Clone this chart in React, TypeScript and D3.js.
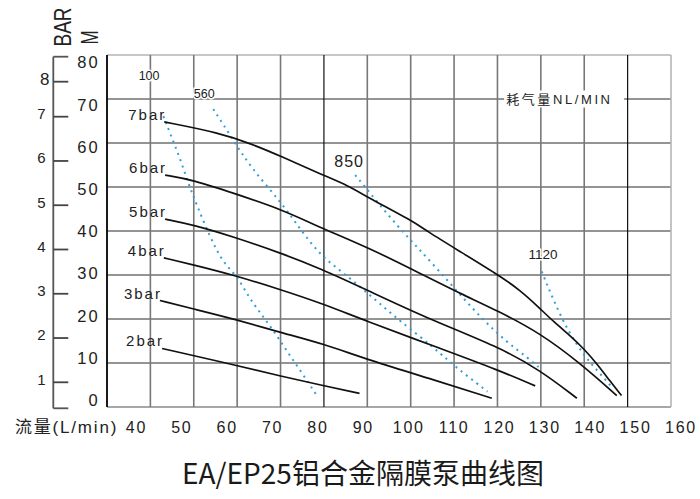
import React from "react";
import * as d3 from "d3";

// ---------- data ----------
const gridFlows = [30, 40, 50, 60, 70, 80, 90, 100, 110, 120, 130, 140, 150, 160];
const flowTicks = [40, 50, 60, 70, 80, 90, 100, 110, 120, 130, 140, 150, 160];
const headTicks = [0, 10, 20, 30, 40, 50, 60, 70, 80];
const barTicks = [1, 2, 3, 4, 5, 6, 7, 8];
const boldFlows = [80, 150];

const pressureLabels = ["7bar", "6bar", "5bar", "4bar", "3bar", "2bar"];
const curve7bar: [number, number][] = [[43.2, 64.8], [56, 62.3], [63, 59.9], [70.3, 56.9], [80, 52.6], [85.2, 50.5], [90.6, 47.4], [100.4, 42.3], [103.7, 40.0], [110.6, 35.8], [120.2, 30.0], [125.2, 26.6], [129.8, 22.4], [132.9, 19.4], [137.5, 15.6], [139.8, 13.3], [142.9, 9.9], [146, 5.8], [148.6, 2.6]];
const curve6bar: [number, number][] = [[43.4, 52.7], [49.9, 51.6], [59.1, 48.6], [70.3, 44.9], [79.1, 40.8], [90.6, 36.1], [103.7, 29.6], [111.4, 25.8], [120.2, 21.8], [129.8, 16.8], [139, 10.0], [147.5, 2.6]];
const curve5bar: [number, number][] = [[43.4, 42.7], [49.9, 41.4], [59.1, 38.7], [70.3, 34.9], [79.1, 31.5], [89.9, 26.6], [103.7, 20.2], [120.2, 13.7], [129.8, 8.4], [138.3, 2.0]];
const curve4bar: [number, number][] = [[43.1, 33.9], [49.9, 32.3], [59.1, 30.0], [70.3, 26.6], [79.6, 23.5], [89.1, 19.8], [106.8, 13.3], [120.2, 8.4], [128.7, 4.8]];
const curve3bar: [number, number][] = [[42.2, 24.2], [49.9, 22.3], [59.7, 19.9], [70.1, 16.9], [80.1, 14.3], [90.2, 10.7], [106.8, 5.75], [118.7, 2.0]];
const curve2bar: [number, number][] = [[42.7, 13.3], [59.7, 9.5], [70.1, 7.0], [80.1, 4.8], [88.2, 3.1]];
const pressureCurves = [curve7bar, curve6bar, curve5bar, curve4bar, curve3bar, curve2bar];

const airLabels = ["100", "560", "850", "1120"];
const airLabelAt: [number, number][] = [[39.7, 74.3], [52.4, 70.2], [85.8, 54.5], [130.5, 33.6]];
const airLabelSize = [12.5, 12.5, 16, 13.5];
const air100: [number, number][] = [[43, 66.1], [44.5, 62.3], [46.8, 56.6], [48.7, 50.9], [50.7, 45.9], [53.7, 38.7], [56.8, 32.7], [59.9, 29.9], [62.6, 25.1], [65.3, 21.4], [68, 17.9], [71.4, 12.8], [74.9, 7.8], [78.3, 2.7]];
const air560: [number, number][] = [[54.5, 67.7], [59.1, 60.7], [63, 54.6], [70.3, 46.3], [74.5, 40.5], [79.1, 34.5], [84.1, 30.8], [88.7, 27.0], [93.7, 22.8], [97.1, 19.9], [105.6, 13.3], [109.8, 9.5], [117.7, 3.5]];
const air850: [number, number][] = [[87.2, 52.7], [89.1, 50.5], [92.2, 46.7], [97.1, 41.0], [101.4, 36.4], [106.4, 31.1], [111.4, 25.5], [116.7, 19.8], [122.1, 14.8], [127.1, 11.1], [129.8, 8.8]];
const air1120: [number, number][] = [[130.2, 30.8], [132.9, 24.3], [136.3, 17.1], [140.2, 11.4], [142.9, 8.4], [146.3, 4.6]];
const airCurves = [air100, air560, air850, air1120];

const airTitle = "耗气量NL/MIN";
const airTitleAt: [number, number] = [122, 70];
const xTitle = "流量(L/min)";
const chartTitle = "EA/EP25铝合金隔膜泵曲线图";

// ---------- component ----------
export default function App() {
  const W = 700, H = 499;
  const xs = d3.scaleLinear().domain([30, 160]).range([107, 671]);
  const ys = d3.scaleLinear().domain([0, 80]).range([407, 55]);
  const xLab = d3.scaleLinear().domain([40, 160]).range([135.5, 680]);
  const yLab = d3.scaleLinear().domain([0, 80]).range([400, 62.5]);
  const bs = d3.scaleLinear().domain([1, 7, 8]).range([382.3, 116.7, 81.7]);

  const line = d3
    .line<[number, number]>()
    .x((d) => xs(d[0]))
    .y((d) => ys(d[1]))
    .curve(d3.curveBasis);

  const font = "'Liberation Sans', Arial, 'Noto Sans CJK SC', sans-serif";
  const txt = "#222";
  const axisX = 53.3;

  return (
    <svg
      width={W}
      height={H}
      viewBox={`0 0 ${W} ${H}`}
      style={{ position: "absolute", left: 0, top: 0, background: "#fff" }}
      fontFamily={font}
    >
      <rect x={0} y={0} width={W} height={H} fill="#fff" />

      {/* horizontal grid */}
      {headTicks.map((h) => (
        <line
          key={"h" + h}
          x1={xs(30)}
          x2={xs(160)}
          y1={ys(h)}
          y2={ys(h)}
          stroke={h === 80 ? "#b5b5b5" : h === 0 ? "#8a8a8a" : "#707070"}
          strokeWidth={1.6}
        />
      ))}
      {/* vertical grid */}
      {gridFlows.map((f) => (
        <line
          key={"v" + f}
          x1={xs(f)}
          x2={xs(f)}
          y1={ys(0)}
          y2={ys(80)}
          stroke={f === 30 ? "#000" : boldFlows.includes(f) ? "#111" : f === 160 ? "#b5b5b5" : "#787878"}
          strokeWidth={f === 30 ? 1.8 : boldFlows.includes(f) ? 1.2 : 1.6}
        />
      ))}

      {/* air consumption title with white box */}
      <rect x={xs(airTitleAt[0]) - 2} y={ys(airTitleAt[1]) - 8.5} width={120} height={17} fill="#fff" />
      <text
        x={xs(airTitleAt[0])}
        y={ys(airTitleAt[1])}
        dy="0.36em"
        fontSize={13}
        letterSpacing={2.6}
        fill={txt}
      >
        {airTitle}
      </text>

      {/* air consumption dotted lines */}
      {airCurves.map((c, i) => (
        <path
          key={"a" + i}
          d={line(c) || ""}
          fill="none"
          stroke="#2f9fdb"
          strokeWidth={2}
          strokeDasharray="2 4.6"
        />
      ))}
      {airLabels.map((l, i) => (
        <text
          key={"al" + i}
          x={xs(airLabelAt[i][0])}
          y={ys(airLabelAt[i][1])}
          textAnchor="middle"
          fontSize={airLabelSize[i]}
          letterSpacing={i === 2 ? 1 : 0}
          fill={txt}
          stroke="#fff"
          strokeWidth={3}
          paintOrder="stroke"
        >
          {l}
        </text>
      ))}

      {/* pressure curves */}
      {pressureCurves.map((c, i) => (
        <path key={"p" + i} d={line(c) || ""} fill="none" stroke="#111" strokeWidth={1.7} />
      ))}
      {pressureCurves.map((c, i) => (
        <text
          key={"pl" + i}
          x={xs(c[0][0]) + 2}
          y={ys(c[0][1]) - 2}
          textAnchor="end"
          fontSize={15}
          letterSpacing={2}
          fill={txt}
        >
          {pressureLabels[i]}
        </text>
      ))}

      {/* M axis labels */}
      {headTicks.map((h) => (
        <text
          key={"ml" + h}
          x={100}
          y={yLab(h)}
          dy="0.36em"
          textAnchor="end"
          fontSize={16.5}
          letterSpacing={2.2}
          fill={txt}
        >
          {h}
        </text>
      ))}
      <text
        transform={`translate(89.5,37.5) rotate(-90) scale(0.85,1.2)`}
        textAnchor="middle"
        dy="0.36em"
        fontSize={20}
        fill={txt}
      >
        M
      </text>

      {/* BAR axis */}
      <line x1={axisX} x2={axisX} y1={56.7} y2={408.3} stroke="#555" strokeWidth={1.8} />
      <line x1={axisX} x2={axisX + 15} y1={56.7} y2={56.7} stroke="#555" strokeWidth={1.8} />
      <line x1={axisX} x2={axisX + 15} y1={408.3} y2={408.3} stroke="#555" strokeWidth={1.8} />
      {barTicks.map((b) => (
        <g key={"b" + b}>
          <line x1={axisX} x2={axisX + 15} y1={bs(b)} y2={bs(b)} stroke="#444" strokeWidth={1.8} />
          <text
            x={b === 8 ? 49.5 : 45.5}
            y={bs(b) - 3}
            dy="0.36em"
            textAnchor="end"
            fontSize={b === 8 ? 17 : 15}
            fill={txt}
          >
            {b}
          </text>
        </g>
      ))}
      <text
        transform={`translate(62.5,27) rotate(-90) scale(0.95,1.2)`}
        textAnchor="middle"
        dy="0.36em"
        fontSize={20}
        fill={txt}
      >
        BAR
      </text>

      {/* X axis labels */}
      {flowTicks.map((f) => (
        <text
          key={"xl" + f}
          x={xLab(f) + 1}
          y={433.3}
          textAnchor="middle"
          fontSize={16}
          letterSpacing={1.8}
          fill={txt}
        >
          {f}
        </text>
      ))}
      <text x={15} y={433.3} fontSize={17} letterSpacing={1.8} fill={txt}>
        {xTitle}
      </text>

      {/* chart title */}
      <text
        x={363}
        y={483.5}
        textAnchor="middle"
        fontSize={28}
        fontFamily="'Noto Sans CJK SC', 'Noto Sans', sans-serif"
        fill="#1a1a1a"
      >
        {chartTitle}
      </text>
    </svg>
  );
}
